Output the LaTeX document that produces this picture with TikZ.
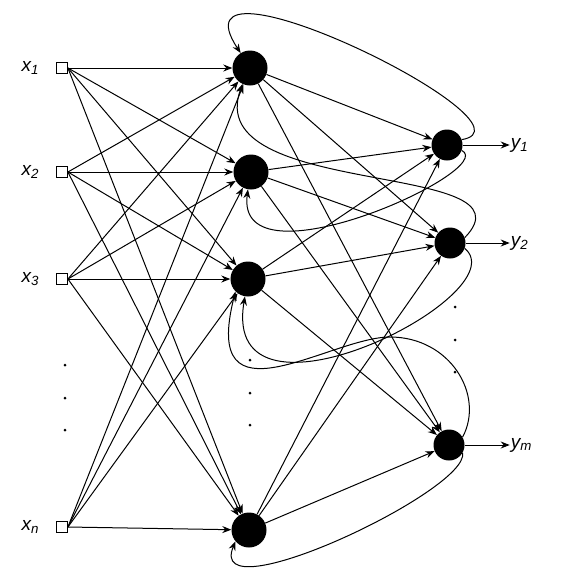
\documentclass[tikz,border=0pt]{standalone}
\usepackage{fontspec}
\setmainfont{Liberation Sans}
\usepackage{tikz}
\usetikzlibrary{arrows.meta, positioning}
\tikzstyle{input} = [rectangle, draw=black, line width=0.8pt, fill=white, minimum size=11pt, inner sep=0pt]
\tikzstyle{hidden} = [circle, fill=black, minimum size=35pt, inner sep=0pt]
\tikzstyle{output} = [circle, fill=black, minimum size=31pt, inner sep=0pt]
\tikzstyle{varname} = [inner sep=1pt, font=\fontsize{19}{21}\selectfont\itshape]
\tikzstyle{dot} = [circle, fill=black, minimum size=3pt, inner sep=0pt]
\tikzstyle{arrow} = [line width=1pt, ->, >={Stealth[length=9pt,width=7pt]}]
\tikzstyle{feedback} = [line width=1pt, ->, >={Stealth[length=9pt,width=7pt]}]

\begin{document}
\begin{tikzpicture}[x=1pt, y=-1pt]
\useasboundingbox (0,0) rectangle (569,568);

% Inputs
\node (i1) [input] at (62,68) {};
\node (i2) [input] at (62,172) {};
\node (i3) [input] at (62,279) {};
\node (in) [input] at (62,527) {};

\node (x1) [varname, left=16pt of i1] {x\textsubscript{1}};
\node (x2) [varname, left=16pt of i2] {x\textsubscript{2}};
\node (x3) [varname, left=16pt of i3] {x\textsubscript{3}};
\node (xn) [varname, left=16pt of in] {x\textsubscript{n}};

\node (id1) [dot] at (65,365) {};
\node (id2) [dot] at (65,398) {};
\node (id3) [dot] at (65,430) {};

% Hidden layer
\node (h1) [hidden] at (250,68) {};
\node (h2) [hidden] at (251,172) {};
\node (h3) [hidden] at (248,279) {};
\node (hn) [hidden] at (249,530) {};

\node (hd1) [dot] at (250,360) {};
\node (hd2) [dot] at (250,393) {};
\node (hd3) [dot] at (250,425) {};

% Output layer
\node (o1) [output] at (447,145) {};
\node (o2) [output] at (450,243) {};
\node (om) [output] at (449,445) {};

\node (od1) [dot] at (455,307) {};
\node (od2) [dot] at (455,340) {};
\node (od3) [dot] at (455,372) {};

\node (y1) [varname, right=47pt of o1] {y\textsubscript{1}};
\node (y2) [varname, right=44pt of o2] {y\textsubscript{2}};
\node (ym) [varname, right=45pt of om] {y\textsubscript{m}};

% Inputs to hidden
\draw[arrow] (i1.east) -- (h1);
\draw[arrow] (i1.east) -- (h2);
\draw[arrow] (i1.east) -- (h3);
\draw[arrow] (i1.east) -- (hn);
\draw[arrow] (i2.east) -- (h1);
\draw[arrow] (i2.east) -- (h2);
\draw[arrow] (i2.east) -- (h3);
\draw[arrow] (i2.east) -- (hn);
\draw[arrow] (i3.east) -- (h1);
\draw[arrow] (i3.east) -- (h2);
\draw[arrow] (i3.east) -- (h3);
\draw[arrow] (i3.east) -- (hn);
\draw[arrow] (in.east) -- (h1);
\draw[arrow] (in.east) -- (h2);
\draw[arrow] (in.east) -- (h3);
\draw[arrow] (in.east) -- (hn);

% Hidden to outputs
\draw[arrow] (h1) -- (o1);
\draw[arrow] (h1) -- (o2);
\draw[arrow] (h1) -- (om);
\draw[arrow] (h2) -- (o1);
\draw[arrow] (h2) -- (o2);
\draw[arrow] (h2) -- (om);
\draw[arrow] (h3) -- (o1);
\draw[arrow] (h3) -- (o2);
\draw[arrow] (h3) -- (om);
\draw[arrow] (hn) -- (o1);
\draw[arrow] (hn) -- (o2);
\draw[arrow] (hn) -- (om);

% Outputs
\draw[arrow] (o1.east) -- (y1);
\draw[arrow] (o2.east) -- (y2);
\draw[arrow] (om.east) -- (ym);

% Feedback
\draw[feedback] (o1.20) .. controls (548,125) and (165,-62) .. (h1.122);
\draw[feedback] (o1.-20) .. controls (500,170) and (235,290) .. (h2.-100);
\draw[feedback] (o2.20) .. controls (540,160) and (200,200) .. (h1.-115);
\draw[feedback] (o2.-20) .. controls (520,295) and (220,445) .. (h3.-100);
\draw[feedback] (om.30) .. controls (485,395) and (450,337) .. (390,337)
  .. controls (330,337) and (200,430) .. (h3.-135);
\draw[feedback] (om.-30) .. controls (470,490) and (205,615) .. (hn.-140);

\end{tikzpicture}
\end{document}
